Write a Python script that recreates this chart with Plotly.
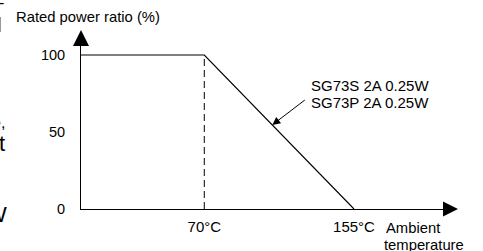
import plotly.graph_objects as go

# Data
temps = [0, 70, 155]
ratios = [100, 100, 0]
knee_temp = [70, 70]
knee_ratio = [0, 100]
y_ticks = [0, 50, 100]
x_ticks = [70, 155]
x_tick_labels = ["70°C", "155°C"]
series_lines = ["SG73S 2A 0.25W", "SG73P 2A 0.25W"]
pointer_temp = 108.6

W, H = 483, 251
L, R, T, B = 81, 40, 46, 42
pw, ph = W - L - R, H - T - B
FONT = "Liberation Sans, Arial, Helvetica, sans-serif"


def px(xp):
    return (xp - L) / pw


def py(yp):
    return (H - B - yp) / ph


fig = go.Figure()
fig.add_trace(go.Scatter(x=knee_temp, y=knee_ratio, mode="lines",
                         line=dict(color="black", width=1, dash="7px,4px"),
                         hoverinfo="skip", showlegend=False))
fig.add_trace(go.Scatter(x=temps, y=ratios, mode="lines",
                         line=dict(color="black", width=1.2),
                         hoverinfo="skip", showlegend=False, cliponaxis=False))

x_max = (W - R - L) / ((354 - L) / 155)
y_max = (H - B - T) / ((H - B - 55) / 100)

fig.update_xaxes(range=[0, x_max], tickvals=x_ticks, ticktext=x_tick_labels,
                 showgrid=False, zeroline=False, showline=True, linecolor="black",
                 linewidth=1, ticks="", ticklabelstandoff=4,
                 tickfont=dict(size=15, color="black", family=FONT))
fig.update_yaxes(range=[0, y_max], tickvals=y_ticks,
                 showgrid=False, zeroline=False, showline=True, linecolor="black",
                 linewidth=1, ticks="", ticklabelstandoff=12,
                 tickfont=dict(size=14.5, color="black", family=FONT))

shapes = [
    # y-axis arrowhead
    dict(type="path", xref="paper", yref="paper",
         path=f"M {px(73)} {py(46)} L {px(89)} {py(46)} L {px(81)} {py(30)} Z",
         fillcolor="black", line=dict(width=0)),
    # x-axis arrowhead
    dict(type="path", xref="paper", yref="paper",
         path=f"M {px(443)} {py(201.5)} L {px(443)} {py(216.5)} L {px(458)} {py(209)} Z",
         fillcolor="black", line=dict(width=0)),
    # cropped neighbour edge
    dict(type="line", xref="paper", yref="paper", x0=px(0.5), x1=px(0.5),
         y0=py(17), y1=py(32), line=dict(color="#999999", width=1)),
]

annotations = [
    dict(text="Rated power ratio (%)", xref="paper", yref="paper", x=px(14), y=py(17),
         xanchor="left", yanchor="middle", showarrow=False,
         font=dict(size=14.8, color="black", family=FONT)),
    dict(text="Ambient", xref="paper", yref="paper", x=px(384), y=py(228),
         xanchor="left", yanchor="middle", showarrow=False,
         font=dict(size=14.8, color="black", family=FONT)),
    dict(text="temperature", xref="paper", yref="paper", x=px(382), y=py(245),
         xanchor="left", yanchor="middle", showarrow=False,
         font=dict(size=14.8, color="black", family=FONT)),
    dict(text=series_lines[0], xref="paper", yref="paper", x=px(309), y=py(85),
         xanchor="left", yanchor="middle", showarrow=False,
         font=dict(size=15, color="black", family=FONT)),
    dict(text=series_lines[1], xref="paper", yref="paper", x=px(309), y=py(102),
         xanchor="left", yanchor="middle", showarrow=False,
         font=dict(size=15, color="black", family=FONT)),
    # leader arrow to the curve
    dict(text="", x=pointer_temp, y=100 * (155 - pointer_temp) / 85, xref="x", yref="y",
         ax=34, ay=-26, axref="pixel", ayref="pixel",
         showarrow=True, arrowhead=2, arrowsize=1.6, arrowwidth=1, arrowcolor="black",
         standoff=0),
    # cropped neighbour text fragments on the left edge
    dict(text="-", xref="paper", yref="paper", x=px(6), y=py(3),
         xanchor="right", yanchor="middle", showarrow=False,
         font=dict(size=16, color="black", family=FONT)),
    dict(text="e,", xref="paper", yref="paper", x=px(7), y=py(122),
         xanchor="right", yanchor="middle", showarrow=False,
         font=dict(size=16, color="black", family=FONT)),
    dict(text="t", xref="paper", yref="paper", x=px(7), y=py(143),
         xanchor="right", yanchor="middle", showarrow=False,
         font=dict(size=22, color="black", family=FONT)),
    dict(text="W", xref="paper", yref="paper", x=px(9), y=py(214),
         xanchor="right", yanchor="middle", showarrow=False,
         font=dict(size=22, color="black", family=FONT)),
]

fig.update_layout(width=W, height=H, margin=dict(l=L, r=R, t=T, b=B, pad=0),
                  paper_bgcolor="white", plot_bgcolor="white",
                  shapes=shapes, annotations=annotations, showlegend=False,
                  font=dict(family=FONT, color="black"))

fig.write_html("out.html", config={"displayModeBar": False},
               post_script="document.body.style.margin='0';document.body.style.overflow='hidden';")
